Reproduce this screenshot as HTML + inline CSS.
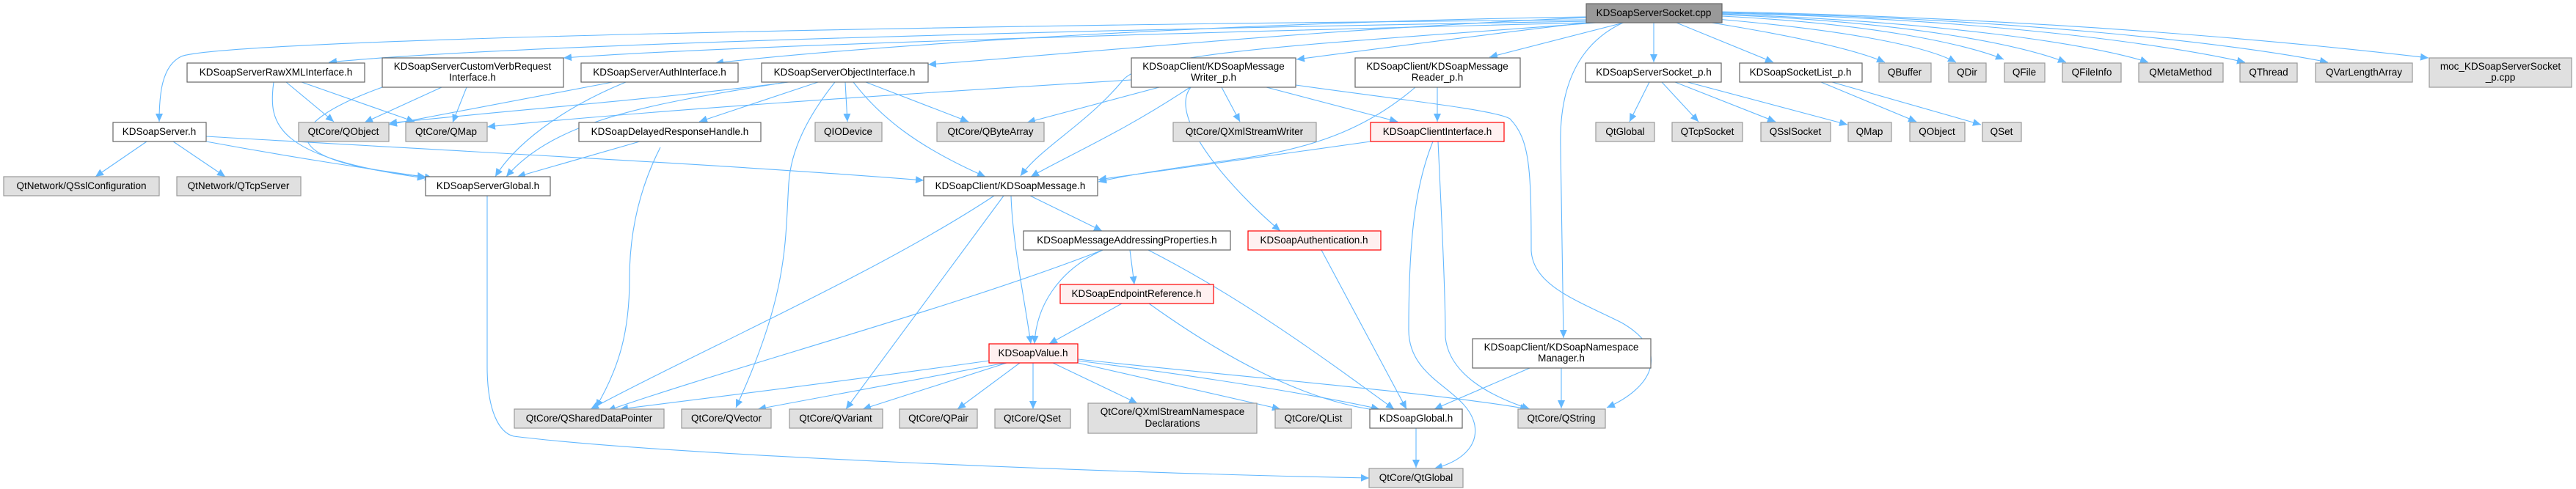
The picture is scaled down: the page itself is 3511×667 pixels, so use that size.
<!DOCTYPE html>
<html><head><meta charset="utf-8"><style>
html,body{margin:0;padding:0;background:#fff;}
svg{display:block;}
text{font-family:"Liberation Sans","DejaVu Sans",sans-serif;font-size:13.5px;fill:#000;text-anchor:middle;}
.e{fill:none;stroke:#63b8ff;stroke-width:1.1;marker-end:url(#a);}
.w{fill:#fff;stroke:#666;stroke-width:1.2;}
.g{fill:#e0e0e0;stroke:#999;stroke-width:1.2;}
.r{fill:#fff0f0;stroke:#f00;stroke-width:1.2;}
.k{fill:#999;stroke:#666;stroke-width:1.2;}
</style></head><body>
<svg width="3511" height="667" viewBox="0 0 3511 667" xmlns="http://www.w3.org/2000/svg">
<defs><marker id="a" markerUnits="userSpaceOnUse" markerWidth="12" markerHeight="10" refX="11" refY="5" orient="auto"><path d="M0,0 L11,5 L0,10 z" fill="#63b8ff"/></marker></defs>

<!-- edges from root -->
<path class="e" d="M2162,27 C1200,35 300,55 247,77 C220,90 217,130 217,166"/>
<path class="e" d="M2162,29 C1500,40 700,60 448,85"/>
<path class="e" d="M2162,31 C1600,45 1000,62 768,79"/>
<path class="e" d="M2162,23 C1700,30 1200,60 975,86"/>
<path class="e" d="M2162,24 C1800,40 1500,70 1265,88"/>
<path class="e" d="M2175,31 C1800,60 1560,70 1530,110 C1480,170 1420,200 1391,240"/>
<path class="e" d="M2162,31 C2000,50 1850,70 1767,81"/>
<path class="e" d="M2213,31 L2030,78"/>
<path class="e" d="M2212,31 C2150,60 2125,120 2127,200 L2131,461"/>
<path class="e" d="M2254,31 L2254,85"/>
<path class="e" d="M2285,31 L2417,85"/>
<path class="e" d="M2333,31 C2450,50 2530,68 2569,85"/>
<path class="e" d="M2340,26 C2500,40 2620,60 2666,85"/>
<path class="e" d="M2346,22 C2550,32 2680,60 2731,81"/>
<path class="e" d="M2346,20 C2600,30 2750,60 2816,85"/>
<path class="e" d="M2346,19 C2650,30 2850,60 2928,85"/>
<path class="e" d="M2346,18 C2700,25 2950,60 3060,85"/>
<path class="e" d="M2346,17 C2750,25 3050,60 3173,85"/>
<path class="e" d="M2346,16 C2800,25 3150,60 3310,79"/>

<!-- ServerSocket_p / SocketList_p -->
<path class="e" d="M2248,112 L2221,166"/>
<path class="e" d="M2265,112 L2315,166"/>
<path class="e" d="M2283,112 L2420,166"/>
<path class="e" d="M2300,112 L2518,170"/>
<path class="e" d="M2482,112 L2612,166"/>
<path class="e" d="M2497,112 L2700,170"/>

<!-- Raw XML / CustomVerb / Auth -->
<path class="e" d="M390,112 L455,166"/>
<path class="e" d="M411,112 L565,166"/>
<path class="e" d="M373,112 C365,170 375,215 580,243"/>
<path class="e" d="M602,119 L497,167"/>
<path class="e" d="M636,119 L617,167"/>
<path class="e" d="M521,119 C380,170 370,220 580,241"/>
<path class="e" d="M835,112 L530,170"/>
<path class="e" d="M853,112 C760,150 700,200 675,241"/>

<!-- ObjectInterface -->
<path class="e" d="M1075,112 C900,135 700,150 530,168"/>
<path class="e" d="M1072,112 C900,140 760,160 690,241"/>
<path class="e" d="M1115,112 L953,166"/>
<path class="e" d="M1152,112 L1155,166"/>
<path class="e" d="M1180,112 L1320,166"/>
<path class="e" d="M1163,112 C1200,160 1250,200 1343,241"/>
<path class="e" d="M1138,112 C1100,160 1078,205 1075,250 C1070,330 1075,400 1003,556"/>

<!-- MessageWriter -->
<path class="e" d="M1542,109 C1200,130 900,150 664,173"/>
<path class="e" d="M1580,119 L1400,167"/>
<path class="e" d="M1622,119 C1530,180 1460,210 1405,241"/>
<path class="e" d="M1665,119 L1690,166"/>
<path class="e" d="M1623,119 C1590,160 1680,260 1745,315"/>
<path class="e" d="M1726,119 L1905,166"/>
<path class="e" d="M1766,116 C1900,135 2040,150 2058,162 C2085,190 2087,230 2087,342 C2090,390 2150,410 2210,440 C2280,480 2250,530 2190,556"/>

<!-- Reader_p / ClientInterface -->
<path class="e" d="M1959,119 L1959,166"/>
<path class="e" d="M1929,119 C1870,170 1800,200 1700,215 C1580,232 1530,240 1497,248"/>
<path class="e" d="M1868,193 C1750,210 1600,230 1497,245"/>
<path class="e" d="M1953,193 C1930,250 1920,320 1920,450 C1920,520 2000,530 2010,580 C2015,610 1990,630 1955,639"/>
<path class="e" d="M1960,193 C1965,300 1970,400 1970,460 C1975,510 2030,540 2085,558"/>

<!-- KDSoapServer.h -->
<path class="e" d="M200,193 L130,241"/>
<path class="e" d="M236,193 L307,241"/>
<path class="e" d="M281,193 C400,215 500,230 590,243"/>
<path class="e" d="M281,186 C600,205 1000,225 1259,246"/>

<!-- DelayedResponseHandle -->
<path class="e" d="M872,193 L705,241"/>
<path class="e" d="M900,201 C870,260 858,320 858,380 C858,450 845,500 812,556"/>

<!-- ServerGlobal -->
<path class="e" d="M664,267 L664,500 C664,560 680,590 700,595 C900,620 1500,645 1866,652"/>

<!-- KDSoapMessage.h -->
<path class="e" d="M1404,267 L1502,315"/>
<path class="e" d="M1378,267 C1380,330 1395,400 1405,469"/>
<path class="e" d="M1368,267 L1153,558"/>
<path class="e" d="M1355,267 C1200,370 950,480 805,558"/>

<!-- MessageAddressing -->
<path class="e" d="M1540,341 L1546,388"/>
<path class="e" d="M1503,341 C1440,370 1412,420 1410,469"/>
<path class="e" d="M1503,341 C1300,420 1000,500 828,560"/>
<path class="e" d="M1565,341 C1700,410 1820,500 1900,558"/>

<!-- Authentication / Endpoint -->
<path class="e" d="M1801,341 L1917,558"/>
<path class="e" d="M1529,414 L1430,469"/>
<path class="e" d="M1566,414 C1700,510 1800,550 1880,560"/>

<!-- KDSoapValue -->
<path class="e" d="M1348,492 C1150,520 950,545 845,558"/>
<path class="e" d="M1370,495 L1033,558"/>
<path class="e" d="M1372,495 L1176,558"/>
<path class="e" d="M1390,495 L1305,558"/>
<path class="e" d="M1408,495 L1408,558"/>
<path class="e" d="M1435,495 L1550,550"/>
<path class="e" d="M1469,495 L1745,558"/>
<path class="e" d="M1469,492 C1650,515 1800,540 1880,558"/>
<path class="e" d="M1469,490 C1700,515 1950,535 2083,558"/>

<!-- NamespaceManager / KDSoapGlobal -->
<path class="e" d="M2085,502 L1955,558"/>
<path class="e" d="M2128,502 L2128,557"/>
<path class="e" d="M1930,584 L1930,638"/>

<!-- nodes -->
<rect class="k" x="2162" y="5" width="185" height="26"/><text x="2254" y="22">KDSoapServerSocket.cpp</text>

<rect class="w" x="255" y="86" width="242" height="26"/><text x="376" y="103">KDSoapServerRawXMLInterface.h</text>
<rect class="w" x="521" y="79" width="247" height="40"/><text x="644" y="95">KDSoapServerCustomVerbRequest</text><text x="644" y="110">Interface.h</text>
<rect class="w" x="792" y="86" width="214" height="26"/><text x="899" y="103">KDSoapServerAuthInterface.h</text>
<rect class="w" x="1038" y="86" width="227" height="26"/><text x="1151" y="103">KDSoapServerObjectInterface.h</text>
<rect class="w" x="1542" y="79" width="224" height="40"/><text x="1654" y="95">KDSoapClient/KDSoapMessage</text><text x="1654" y="110">Writer_p.h</text>
<rect class="w" x="1847" y="79" width="225" height="40"/><text x="1959" y="95">KDSoapClient/KDSoapMessage</text><text x="1959" y="110">Reader_p.h</text>
<rect class="w" x="2161" y="86" width="185" height="26"/><text x="2254" y="103">KDSoapServerSocket_p.h</text>
<rect class="w" x="2371" y="86" width="167" height="26"/><text x="2454" y="103">KDSoapSocketList_p.h</text>
<rect class="g" x="2561" y="86" width="71" height="26"/><text x="2596" y="103">QBuffer</text>
<rect class="g" x="2656" y="86" width="51" height="26"/><text x="2681" y="103">QDir</text>
<rect class="g" x="2732" y="86" width="55" height="26"/><text x="2759" y="103">QFile</text>
<rect class="g" x="2811" y="86" width="80" height="26"/><text x="2851" y="103">QFileInfo</text>
<rect class="g" x="2915" y="86" width="115" height="26"/><text x="2972" y="103">QMetaMethod</text>
<rect class="g" x="3053" y="86" width="78" height="26"/><text x="3092" y="103">QThread</text>
<rect class="g" x="3156" y="86" width="132" height="26"/><text x="3222" y="103">QVarLengthArray</text>
<rect class="g" x="3311" y="79" width="194" height="40"/><text x="3408" y="95">moc_KDSoapServerSocket</text><text x="3408" y="110">_p.cpp</text>

<rect class="w" x="154" y="167" width="127" height="26"/><text x="217" y="184">KDSoapServer.h</text>
<rect class="g" x="407" y="167" width="123" height="26"/><text x="468" y="184">QtCore/QObject</text>
<rect class="g" x="553" y="167" width="111" height="26"/><text x="608" y="184">QtCore/QMap</text>
<rect class="w" x="789" y="167" width="248" height="26"/><text x="913" y="184">KDSoapDelayedResponseHandle.h</text>
<rect class="g" x="1111" y="167" width="91" height="26"/><text x="1156" y="184">QIODevice</text>
<rect class="g" x="1277" y="167" width="146" height="26"/><text x="1350" y="184">QtCore/QByteArray</text>
<rect class="g" x="1599" y="167" width="195" height="26"/><text x="1696" y="184">QtCore/QXmlStreamWriter</text>
<rect class="r" x="1868" y="167" width="182" height="26"/><text x="1959" y="184">KDSoapClientInterface.h</text>
<rect class="g" x="2175" y="167" width="80" height="26"/><text x="2215" y="184">QtGlobal</text>
<rect class="g" x="2279" y="167" width="96" height="26"/><text x="2327" y="184">QTcpSocket</text>
<rect class="g" x="2400" y="167" width="95" height="26"/><text x="2447" y="184">QSslSocket</text>
<rect class="g" x="2519" y="167" width="59" height="26"/><text x="2548" y="184">QMap</text>
<rect class="g" x="2603" y="167" width="75" height="26"/><text x="2640" y="184">QObject</text>
<rect class="g" x="2702" y="167" width="53" height="26"/><text x="2728" y="184">QSet</text>

<rect class="g" x="5" y="241" width="212" height="26"/><text x="111" y="258">QtNetwork/QSslConfiguration</text>
<rect class="g" x="241" y="241" width="169" height="26"/><text x="325" y="258">QtNetwork/QTcpServer</text>
<rect class="w" x="580" y="241" width="170" height="26"/><text x="665" y="258">KDSoapServerGlobal.h</text>
<rect class="w" x="1259" y="241" width="237" height="26"/><text x="1377" y="258">KDSoapClient/KDSoapMessage.h</text>

<rect class="w" x="1395" y="315" width="282" height="26"/><text x="1536" y="332">KDSoapMessageAddressingProperties.h</text>
<rect class="r" x="1701" y="315" width="181" height="26"/><text x="1791" y="332">KDSoapAuthentication.h</text>
<rect class="r" x="1445" y="388" width="209" height="26"/><text x="1549" y="405">KDSoapEndpointReference.h</text>
<rect class="r" x="1348" y="469" width="121" height="26"/><text x="1408" y="486">KDSoapValue.h</text>
<rect class="w" x="2007" y="462" width="243" height="40"/><text x="2128" y="478">KDSoapClient/KDSoapNamespace</text><text x="2128" y="493">Manager.h</text>

<rect class="g" x="701" y="558" width="204" height="26"/><text x="803" y="575">QtCore/QSharedDataPointer</text>
<rect class="g" x="929" y="558" width="122" height="26"/><text x="990" y="575">QtCore/QVector</text>
<rect class="g" x="1076" y="558" width="127" height="26"/><text x="1139" y="575">QtCore/QVariant</text>
<rect class="g" x="1226" y="558" width="106" height="26"/><text x="1279" y="575">QtCore/QPair</text>
<rect class="g" x="1356" y="558" width="103" height="26"/><text x="1407" y="575">QtCore/QSet</text>
<rect class="g" x="1483" y="550" width="230" height="41"/><text x="1598" y="566">QtCore/QXmlStreamNamespace</text><text x="1598" y="582">Declarations</text>
<rect class="g" x="1738" y="558" width="104" height="26"/><text x="1790" y="575">QtCore/QList</text>
<rect class="w" x="1867" y="558" width="126" height="26"/><text x="1930" y="575">KDSoapGlobal.h</text>
<rect class="g" x="2069" y="558" width="119" height="26"/><text x="2128" y="575">QtCore/QString</text>
<rect class="g" x="1866" y="639" width="128" height="26"/><text x="1930" y="656">QtCore/QtGlobal</text>
</svg>
</body></html>
